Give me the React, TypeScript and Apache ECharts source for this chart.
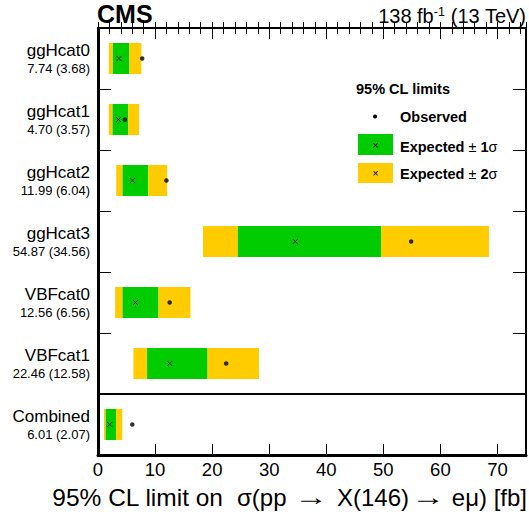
import React, { useEffect, useRef } from 'react';
import * as echarts from 'echarts';

const categories = ['ggHcat0', 'ggHcat1', 'ggHcat2', 'ggHcat3', 'VBFcat0', 'VBFcat1', 'Combined'];
const observed = [7.74, 4.7, 11.99, 54.87, 12.56, 22.46, 6.01];
const expected = [3.68, 3.57, 6.04, 34.56, 6.56, 12.58, 2.07];
const minus2 = [1.9, 1.9, 3.2, 18.4, 3.0, 6.2, 1.05];
const minus1 = [2.6, 2.55, 4.3, 24.5, 4.3, 8.6, 1.35];
const plus1 = [5.5, 5.3, 8.8, 49.6, 10.6, 19.2, 3.15];
const plus2 = [7.6, 7.2, 12.1, 68.5, 16.2, 28.2, 4.25];
const separatorAt = [6];

const FONT = '"Liberation Sans", Arial, Helvetica, sans-serif';
const GREEN = '#00CC00';
const YELLOW = '#FFCC00';
const CROSS = 'path://M0,1L1,0L5,4L9,0L10,1L6,5L10,9L9,10L5,6L1,10L0,9L4,5Z';

const txt = (x: number, y: number, text: string, size: number, align: string, extra: any = {}) => ({
  type: 'text', x, y, ...extra,
  style: { text, fontSize: size, fontFamily: FONT, fill: '#000', align, verticalAlign: 'middle', ...(extra.style || {}) },
});

export default function App() {
  const ref = useRef<HTMLDivElement>(null);
  useEffect(() => {
    if (!ref.current) return;
    const chart = echarts.init(ref.current, undefined, { renderer: 'svg' });
    const xCommon = { type: 'value', min: 0, max: 75, splitLine: { show: false } };
    const yValCommon = {
      type: 'value', min: 0, max: 7, interval: 1, inverse: true,
      axisTick: { show: true, inside: true, length: 13, lineStyle: { color: '#000', width: 1 } },
      axisLabel: { show: false }, splitLine: { show: false },
    };
    const barCommon = { type: 'bar', stack: 'band', yAxisIndex: 2, xAxisIndex: 0, barWidth: '51%', silent: true };
    const richLegend = {
      b: { fontSize: 14.5, fontWeight: 'bold', fontFamily: FONT, fill: '#000' },
      r: { fontSize: 14.5, fontFamily: FONT, fill: '#000' },
    };
    chart.setOption({
      animation: false,
      grid: { left: 98, right: 3, top: 28, bottom: 65, containLabel: false },
      xAxis: [
        {
          ...xCommon, position: 'bottom', interval: 10,
          axisLine: { show: true, onZero: false, lineStyle: { color: '#000', width: 3 } },
          axisTick: { show: true, inside: true, length: 11, lineStyle: { color: '#000', width: 1 } },
          axisLabel: {
            show: true, fontSize: 18.5, color: '#000', fontFamily: FONT, margin: 5,
            formatter: (v: number) => (v % 10 === 0 ? String(v) : ''),
          },
        },
        {
          ...xCommon, position: 'bottom', interval: 2,
          axisLine: { show: false },
          axisTick: { show: true, inside: true, length: 6, lineStyle: { color: '#000', width: 1 } },
          axisLabel: { show: false },
        },
        {
          ...xCommon, position: 'top', interval: 10,
          axisLine: { show: true, onZero: false, lineStyle: { color: '#000', width: 2 } },
          axisTick: { show: true, inside: true, length: 11, lineStyle: { color: '#000', width: 1 } },
          axisLabel: { show: false },
        },
        {
          ...xCommon, position: 'top', interval: 2,
          axisLine: { show: false },
          axisTick: { show: true, inside: true, length: 6, lineStyle: { color: '#000', width: 1 } },
          axisLabel: { show: false },
        },
      ],
      yAxis: [
        { ...yValCommon, position: 'left', axisLine: { show: true, onZero: false, lineStyle: { color: '#000', width: 3 } } },
        { ...yValCommon, position: 'right', axisLine: { show: true, onZero: false, lineStyle: { color: '#000', width: 2 } } },
        {
          type: 'category', data: categories, inverse: true, position: 'left',
          axisLine: { show: false }, axisTick: { show: false }, splitLine: { show: false },
          axisLabel: {
            show: true, margin: 8, align: 'right',
            formatter: (v: string, i: number) =>
              `{n|${v}}\n{v|${observed[i].toFixed(2)} (${expected[i].toFixed(2)})}`,
            rich: {
              n: { fontSize: 17, lineHeight: 19, fontFamily: FONT, color: '#000', align: 'right' },
              v: { fontSize: 13, lineHeight: 17, fontFamily: FONT, color: '#000', align: 'right' },
            },
          },
        },
      ],
      series: [
        { ...barCommon, name: 'base', data: minus2, itemStyle: { color: 'rgba(0,0,0,0)' } },
        { ...barCommon, name: 'lo2', data: minus1.map((v, i) => v - minus2[i]), itemStyle: { color: YELLOW } },
        { ...barCommon, name: 'one', data: plus1.map((v, i) => v - minus1[i]), itemStyle: { color: GREEN } },
        { ...barCommon, name: 'hi2', data: plus2.map((v, i) => v - plus1[i]), itemStyle: { color: YELLOW } },
        {
          type: 'scatter', name: 'Expected', yAxisIndex: 2, xAxisIndex: 0, silent: true,
          symbol: CROSS, symbolSize: 5.5, itemStyle: { color: '#000' },
          data: expected.map((v, i) => [v, categories[i]]),
        },
        {
          type: 'scatter', name: 'Observed', yAxisIndex: 2, xAxisIndex: 0, silent: true,
          symbol: 'circle', symbolSize: 4.5, itemStyle: { color: '#000' },
          data: observed.map((v, i) => [v, categories[i]]),
        },
        {
          type: 'line', name: 'sep', yAxisIndex: 0, xAxisIndex: 0, data: [], silent: true,
          markLine: {
            silent: true, symbol: 'none', label: { show: false },
            lineStyle: { color: '#000', width: 2, type: 'solid' },
            data: separatorAt.map((y) => ({ yAxis: y })),
          },
        },
      ],
      graphic: [
        {
          type: 'text', x: 97, y: 14,
          style: { text: 'CMS', fontSize: 25, fontWeight: 'bold', fontFamily: FONT, fill: '#000', align: 'left', verticalAlign: 'middle' },
        },
        {
          type: 'text', x: 526, y: 16,
          style: {
            text: '{a|138 fb}{s|-1}{a| (13 TeV)}', align: 'right', verticalAlign: 'middle',
            rich: {
              a: { fontSize: 20, fontFamily: FONT, fill: '#000', lineHeight: 22 },
              s: { fontSize: 12.5, fontFamily: FONT, fill: '#000', verticalAlign: 'top' },
            },
          },
        },
        // x-axis title, laid out piecewise
        txt(223, 497, '95% CL limit on', 24.5, 'right'),
        txt(237, 497, 'σ(pp', 24, 'left'),
        txt(311, 497, '→', 24, 'center', { scaleX: 1.4 }),
        txt(337, 497, 'X(146)', 24, 'left'),
        txt(428, 497, '→', 24, 'center', { scaleX: 1.4 }),
        txt(527, 497, 'eμ) [fb]', 24, 'right'),
        {
          type: 'text', x: 356, y: 89,
          style: { text: '95% CL limits', fontSize: 14.5, fontWeight: 'bold', fontFamily: FONT, fill: '#000', align: 'left', verticalAlign: 'middle' },
        },
        { type: 'circle', shape: { cx: 375, cy: 116.5, r: 2.1 }, style: { fill: '#000' } },
        {
          type: 'text', x: 400, y: 116.5,
          style: { text: 'Observed', fontSize: 14.5, fontWeight: 'bold', fontFamily: FONT, fill: '#000', align: 'left', verticalAlign: 'middle' },
        },
        { type: 'rect', shape: { x: 358, y: 134, width: 35, height: 21 }, style: { fill: GREEN } },
        { type: 'rect', shape: { x: 358, y: 163, width: 35, height: 20 }, style: { fill: YELLOW } },
        txt(375.5, 144.5, '×', 11, 'center'),
        txt(375.5, 173, '×', 11, 'center'),
        {
          type: 'text', x: 400, y: 146.5,
          style: { text: '{b|Expected }{r|± }{b|1}{r|σ}', align: 'left', verticalAlign: 'middle', rich: richLegend },
        },
        {
          type: 'text', x: 400, y: 174,
          style: { text: '{b|Expected }{r|± }{b|2}{r|σ}', align: 'left', verticalAlign: 'middle', rich: richLegend },
        },
      ],
    });
    return () => chart.dispose();
  }, []);
  return (
    <div
      ref={ref}
      style={{ position: 'fixed', left: 0, top: 0, width: 529, height: 520, background: '#fff' }}
    />
  );
}
